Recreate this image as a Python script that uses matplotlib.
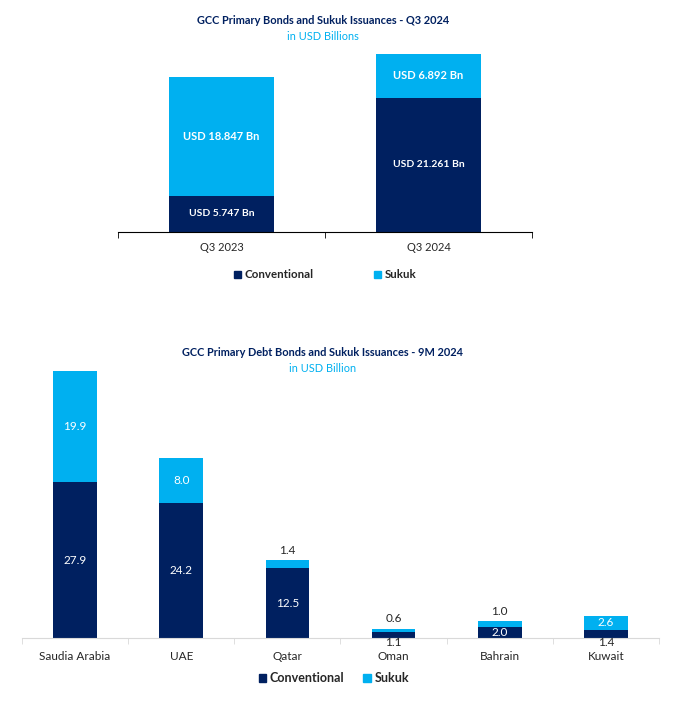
import matplotlib.pyplot as plt
from matplotlib.patches import Patch

# colours
navy = '#002060'
cyan = '#00B0F0'

# top chart data (USD Bn)
q_labels = ['Q3 2023', 'Q3 2024']
q_conv = [5.747, 21.261]
q_sukuk = [18.847, 6.892]

# bottom chart data (USD Billion)
countries = ['Saudia Arabia', 'UAE', 'Qatar', 'Oman', 'Bahrain', 'Kuwait']
c_conv = [27.9, 24.2, 12.5, 1.1, 2.0, 1.4]
c_sukuk = [19.9, 8.0, 1.4, 0.6, 1.0, 2.6]

plt.rcParams['font.family'] = ['Lato', 'DejaVu Sans']

fig = plt.figure(figsize=(6.75, 7.04), dpi=100)

# ---------- top chart ----------
ax1 = fig.add_axes([118/675, 1-232/704, (532-118)/675, (232-54)/704])
x1 = range(len(q_labels))
ax1.bar(x1, q_conv, width=0.51, color=navy)
ax1.bar(x1, q_sukuk, width=0.51, bottom=q_conv, color=cyan)
for i in x1:
    ax1.text(i, q_conv[i]/2, 'USD %.3f Bn' % q_conv[i], ha='center', va='center',
             color='white', fontsize=7.5, fontweight='bold')
    ax1.text(i, q_conv[i] + q_sukuk[i]/2, 'USD %.3f Bn' % q_sukuk[i], ha='center', va='center',
             color='white', fontsize=8, fontweight='bold')
ax1.set_xlim(-0.5, 1.5)
ax1.set_ylim(0, q_conv[1] + q_sukuk[1])
ax1.set_yticks([])
for s in ['top', 'right', 'left']:
    ax1.spines[s].set_visible(False)
ax1.spines['bottom'].set_color('black')
ax1.set_xticks(list(x1))
ax1.set_xticklabels(q_labels, fontsize=8, color='#262626')
ax1.tick_params(axis='x', length=0, pad=7)
ax1.set_xticks([-0.5, 0.5, 1.5], minor=True)
ax1.tick_params(axis='x', which='minor', length=4, color='black')

fig.text(323/675, 1-20/704, 'GCC Primary Bonds and Sukuk Issuances - Q3 2024', ha='center', va='center',
         color=navy, fontsize=7.9, fontweight='bold')
fig.text(323/675, 1-37/704, 'in USD Billions', ha='center', va='center', color=cyan, fontsize=7.9)

handles = [Patch(color=navy, label='Conventional'), Patch(color=cyan, label='Sukuk')]
leg1 = fig.legend(handles=handles, loc='center', bbox_to_anchor=(325/675, 1-275/704), ncol=2,
                  frameon=False, handlelength=0.6, handleheight=0.6, handletextpad=0.3,
                  columnspacing=5.3, prop={'size': 8.3, 'weight': 'bold'})
for t in leg1.get_texts():
    t.set_color('#262626')

# ---------- bottom chart ----------
ax2 = fig.add_axes([22/675, 1-638/704, (659-22)/675, (638-371)/704])
x2 = range(len(countries))
ax2.bar(x2, c_conv, width=0.41, color=navy)
ax2.bar(x2, c_sukuk, width=0.41, bottom=c_conv, color=cyan)
ax2.set_xlim(-0.5, len(countries) - 0.5)
ax2.set_ylim(0, c_conv[0] + c_sukuk[0])
# labels inside / outside
for i in x2:
    total = c_conv[i] + c_sukuk[i]
    if c_conv[i] > 1.5:
        ax2.text(i, c_conv[i]/2, '%.1f' % c_conv[i], ha='center', va='center', color='white', fontsize=8.5)
    else:
        ax2.annotate('%.1f' % c_conv[i], (i, 0), xytext=(0, -3.5), textcoords='offset points',
                     ha='center', va='center', color='#262626', fontsize=8.5)
    if c_sukuk[i] > 2:
        ax2.text(i, c_conv[i] + c_sukuk[i]/2, '%.1f' % c_sukuk[i], ha='center', va='center',
                 color='white', fontsize=8.5)
    else:
        ax2.annotate('%.1f' % c_sukuk[i], (i, total), xytext=(0, 7), textcoords='offset points',
                     ha='center', va='center', color='#262626', fontsize=8.5)
ax2.set_yticks([])
for s in ['top', 'right', 'left']:
    ax2.spines[s].set_visible(False)
ax2.spines['bottom'].set_color('#d9d9d9')
ax2.set_xticks(list(x2))
ax2.set_xticklabels(countries, fontsize=8.5, color='#262626')
ax2.tick_params(axis='x', length=0, pad=9)
ax2.set_xticks([i - 0.5 for i in range(len(countries) + 1)], minor=True)
ax2.tick_params(axis='x', which='minor', length=4, color='#d9d9d9')

fig.text(323/675, 1-352/704, 'GCC Primary Debt Bonds and Sukuk Issuances - 9M 2024', ha='center', va='center',
         color=navy, fontsize=7.9, fontweight='bold')
fig.text(323/675, 1-368/704, 'in USD Billion', ha='center', va='center', color=cyan, fontsize=7.9)

leg2 = fig.legend(handles=handles, loc='center', bbox_to_anchor=(334/675, 1-678/704), ncol=2,
                  frameon=False, handlelength=0.6, handleheight=0.6, handletextpad=0.3,
                  columnspacing=1.5, prop={'size': 9, 'weight': 'bold'})
for t in leg2.get_texts():
    t.set_color('#262626')

fig.savefig('out.png', dpi=100)
